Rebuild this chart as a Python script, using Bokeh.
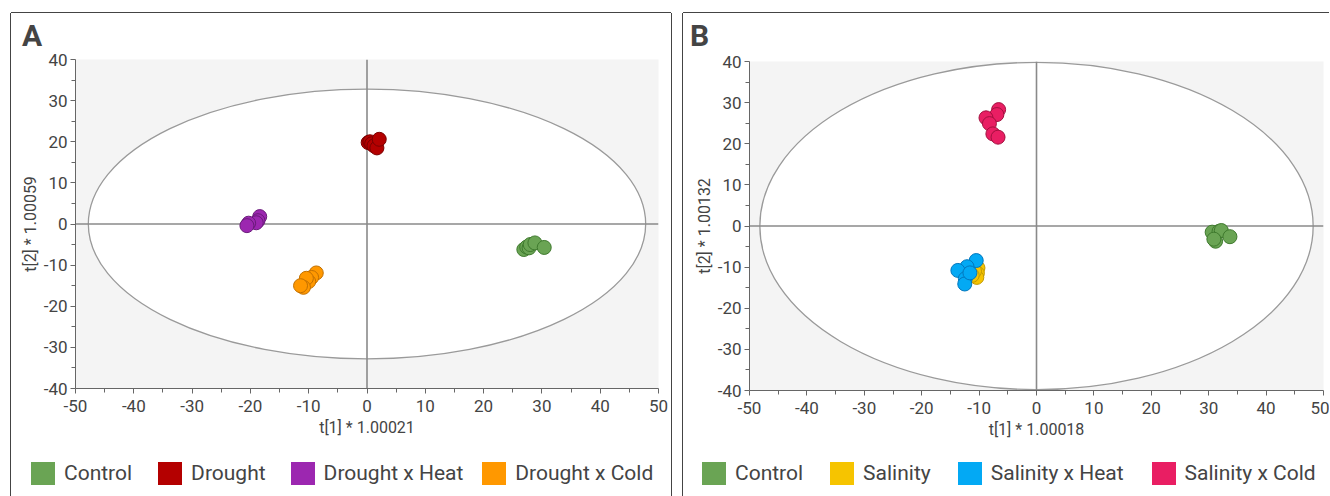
import numpy as np
from bokeh.plotting import figure
from bokeh.models import Range1d, Span, FixedTicker, Div
from bokeh.layouts import row, column
from bokeh.embed import file_html
from bokeh.resources import INLINE

# ---------------- data ----------------
tick_values = [-50, -40, -30, -20, -10, 0, 10, 20, 30, 40, 50]
tick_labels = ["-50", "-40", "-30", "-20", "-10", "0", "10", "20", "30", "40", "50"]
minor_values = [-45, -35, -25, -15, -5, 5, 15, 25, 35, 45]

# Panel A
a_labels = ["Control", "Drought", "Drought x Heat", "Drought x Cold"]
a_control_x = [26.9, 27.4, 27.8, 28.0, 28.8, 30.4]
a_control_y = [-6.2, -5.6, -5.8, -5.0, -4.6, -5.7]
a_drought_x = [0.2, 0.5, 0.8, 1.2, 1.7, 2.1]
a_drought_y = [19.8, 20.0, 19.5, 19.0, 18.5, 20.6]
a_heat_x = [-18.4, -18.7, -19.0, -20.3, -20.6]
a_heat_y = [1.8, 0.8, 0.3, 0.2, -0.4]
a_cold_x = [-8.7, -9.5, -10.0, -10.4, -10.9, -11.4]
a_cold_y = [-11.9, -13.0, -14.0, -13.2, -15.4, -15.0]
a_ellipse = (95.6, 65.6)
a_xlabel = "t[1] * 1.00021"
a_ylabel = "t[2] * 1.00059"

# Panel B
b_labels = ["Control", "Salinity", "Salinity x Heat", "Salinity x Cold"]
b_control_x = [30.6, 31.8, 32.2, 31.2, 33.7, 30.9]
b_control_y = [-1.5, -1.3, -1.1, -3.7, -2.6, -3.2]
b_sal_x = [-10.2, -10.3, -10.4, -10.8, -11.2]
b_sal_y = [-10.2, -11.5, -12.5, -11.0, -12.0]
b_heat_x = [-10.5, -12.1, -13.7, -12.4, -12.5, -11.6]
b_heat_y = [-8.4, -9.9, -10.8, -12.8, -14.1, -11.4]
b_cold_x = [-6.6, -6.9, -8.8, -8.2, -7.6, -6.7]
b_cold_y = [28.3, 27.1, 26.3, 24.9, 22.4, 21.6]
b_ellipse = (96.4, 79.6)
b_xlabel = "t[1] * 1.00018"
b_ylabel = "t[2] * 1.00132"

a_fill = ["#6aa454", "#b40000", "#9c27b0", "#ff9800"]
a_line = ["#3f7a2e", "#7a0000", "#6a1b7a", "#c27000"]
b_fill = ["#6aa454", "#f6c400", "#03a9f4", "#e91e63"]
b_line = ["#3f7a2e", "#c29a00", "#0277bd", "#a3103f"]

FONT = "Roboto"
TXT = "#444444"
TOP_H = 36
PLOT_H = 401
LEG_H = 46


def make_panel(letter, labels, xs, ys, fills, lines, ell, xlab, ylab,
               fw, mbl, mbr, mbt, leg_pad, leg_gaps, letter_pad, shadow):
    width = mbl + fw + mbr

    # panel letter
    letter_div = Div(
        text=(f'<div style="font-family:{FONT};font-weight:bold;font-size:30px;'
              f'line-height:30px;color:{TXT};padding:8px 0 0 {letter_pad}px;">{letter}</div>'),
        width=width, height=TOP_H, margin=0,
        styles={"background-color": "white"})

    p = figure(width=width, height=PLOT_H,
               frame_width=fw, frame_height=329,
               output_backend="svg", toolbar_location=None,
               x_range=Range1d(-50, 50), y_range=Range1d(-40, 40),
               min_border_left=mbl, min_border_right=mbr,
               min_border_top=mbt, min_border_bottom=PLOT_H - mbt - 329)
    p.margin = 0
    p.background_fill_color = "#f4f4f4"
    p.border_fill_color = "white"
    p.outline_line_color = None
    p.grid.visible = False

    e = p.ellipse(x=[0], y=[0], width=[ell[0]], height=[ell[1]],
                  fill_color="white", line_color="#9a9a9a", line_width=1.3)
    e.level = "image"
    for dim in ("height", "width"):
        s = Span(location=0, dimension=dim, line_color="#8a8a8a", line_width=1.6)
        s.level = "underlay"
        p.add_layout(s)

    for lab, x, y, fc, lc in zip(labels, xs, ys, fills, lines):
        p.scatter(x=x, y=y, size=14, fill_color=fc, line_color=lc, line_width=1)

    for ax in (p.xaxis[0], p.yaxis[0]):
        ax.ticker = FixedTicker(ticks=tick_values, minor_ticks=minor_values)
        ax.major_label_overrides = dict(zip(tick_values, tick_labels))
        ax.major_label_text_font = FONT
        ax.major_label_text_font_size = "17px"
        ax.major_label_text_color = TXT
        ax.axis_line_color = "#666666"
        ax.major_tick_line_color = "#666666"
        ax.minor_tick_line_color = "#666666"
        ax.major_tick_out = 5
        ax.major_tick_in = 0
        ax.minor_tick_out = 4
        ax.minor_tick_in = 0
        ax.axis_label_text_font = FONT
        ax.axis_label_text_font_size = "16px"
        ax.axis_label_text_font_style = "normal"
        ax.axis_label_text_color = TXT
    p.xaxis[0].axis_label = xlab
    p.yaxis[0].axis_label = ylab
    p.xaxis[0].major_label_standoff = 6
    p.xaxis[0].axis_label_standoff = 3
    p.yaxis[0].major_label_standoff = 3
    p.yaxis[0].axis_label_standoff = 1

    # legend strip below the plot
    parts = []
    for lab, fc, gap in zip(labels, fills, leg_gaps):
        parts.append(
            f'<span style="display:inline-block;flex:none;width:24px;height:23px;'
            f'background:{fc};margin-right:9px;"></span>'
            f'<span style="flex:none;margin-right:{gap}px;">{lab}</span>')
    legend_div = Div(
        text=(f'<div style="display:flex;align-items:center;white-space:nowrap;'
              f'font-family:{FONT};font-size:21px;line-height:23px;color:{TXT};'
              f'padding:12px 0 0 {leg_pad}px;">' + "".join(parts) + '</div>'),
        width=width, height=LEG_H, margin=0,
        styles={"background-color": "white", "overflow": "hidden"})

    return column(letter_div, p, legend_div, spacing=0,
                  styles={"box-shadow": shadow, "background-color": "white"})


colA = make_panel("A", a_labels,
                  [a_control_x, a_drought_x, a_heat_x, a_cold_x],
                  [a_control_y, a_drought_y, a_heat_y, a_cold_y],
                  a_fill, a_line, a_ellipse, a_xlabel, a_ylabel,
                  fw=583, mbl=64, mbr=13, mbt=10,
                  leg_pad=20, leg_gaps=[26, 25, 19, 0], letter_pad=11,
                  shadow="-1px 0 0 #444, 1px 0 0 #444, 0 -1px 0 #444")
colA.margin = (13, 0, 0, 11)

colB = make_panel("B", b_labels,
                  [b_control_x, b_sal_x, b_heat_x, b_cold_x],
                  [b_control_y, b_sal_y, b_heat_y, b_cold_y],
                  b_fill, b_line, b_ellipse, b_xlabel, b_ylabel,
                  fw=574, mbl=66, mbr=6, mbt=12,
                  leg_pad=19, leg_gaps=[27, 27, 28, 0], letter_pad=7,
                  shadow="-1px 0 0 #444, 0 -1px 0 #444")
colB.margin = (13, 0, 0, 12)

layout = row(colA, colB)
open("out.html", "w").write(file_html(layout, INLINE))
